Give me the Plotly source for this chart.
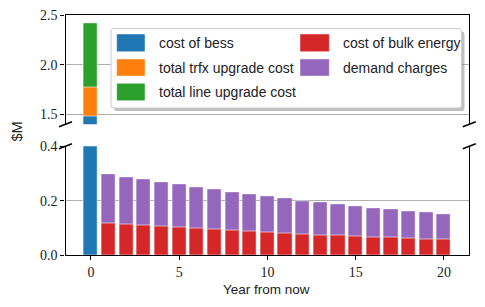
import plotly.graph_objects as go

W, H = 485, 307

years = list(range(0, 21))
bess_year = [0]
cost_bess = [1.476]
trfx_upgrade = [0.297]
line_upgrade = [0.642]
bulk_years = list(range(1, 21))
bulk_energy = [0.117, 0.112, 0.109, 0.106, 0.102, 0.098, 0.095, 0.091, 0.087, 0.085,
               0.081, 0.077, 0.074, 0.071, 0.069, 0.066, 0.064, 0.063, 0.059, 0.058]
demand_charges = [0.181, 0.175, 0.168, 0.162, 0.157, 0.151, 0.147, 0.141, 0.136, 0.130,
                  0.126, 0.122, 0.119, 0.116, 0.110, 0.107, 0.103, 0.098, 0.097, 0.092]
x_ticks = [0, 5, 10, 15, 20]
y_ticks_low = [0.0, 0.2, 0.4]
y_ticks_low_text = ["0.0", "0.2", "0.4"]
y_ticks_high = [1.5, 2.0, 2.5]
y_ticks_high_text = ["1.5", "2.0", "2.5"]

names = ["cost of bess", "total trfx upgrade cost", "total line upgrade cost",
         "cost of bulk energy", "demand charges"]
colors = ["#1f77b4", "#ff7f0e", "#2ca02c", "#d62728", "#9467bd"]

SERIF = "Liberation Serif"
SANS = "Liberation Sans"

def px(x):
    return x / W

def py(y):
    return 1 - y / H

fig = go.Figure()
edge = dict(color="rgba(255,255,255,0.55)", width=0.8)

for xa, ya in [("x", "y"), ("x2", "y2")]:
    b0 = [0.0]
    b1 = [cost_bess[0]]
    b2 = [cost_bess[0] + trfx_upgrade[0]]
    fig.add_trace(go.Bar(x=bess_year, y=cost_bess, base=b0, width=0.8, marker_color=colors[0],
                         marker_line=edge, xaxis=xa, yaxis=ya, showlegend=False))
    fig.add_trace(go.Bar(x=bess_year, y=trfx_upgrade, base=b1, width=0.8, marker_color=colors[1],
                         marker_line=edge, xaxis=xa, yaxis=ya, showlegend=False))
    fig.add_trace(go.Bar(x=bess_year, y=line_upgrade, base=b2, width=0.8, marker_color=colors[2],
                         marker_line=edge, xaxis=xa, yaxis=ya, showlegend=False))
    fig.add_trace(go.Bar(x=bulk_years, y=bulk_energy, base=[0.0] * len(bulk_energy), width=0.8,
                         marker_color=colors[3], marker_line=edge, xaxis=xa, yaxis=ya, showlegend=False))
    fig.add_trace(go.Bar(x=bulk_years, y=demand_charges, base=bulk_energy, width=0.8,
                         marker_color=colors[4], marker_line=edge, xaxis=xa, yaxis=ya, showlegend=False))

XL, XR = 65.5, 469.3
Y_TOP_T, Y_TOP_B = 15.3, 124.2
Y_BOT_T, Y_BOT_B = 146.3, 255.0

axis_common = dict(showline=True, linecolor="black", linewidth=1.4, zeroline=False, automargin=False)
tickfont = dict(family=SERIF, size=14, color="#222")

fig.update_layout(
    template="none",
    width=W, height=H,
    margin=dict(l=0, r=0, t=0, b=0, pad=0),
    paper_bgcolor="white", plot_bgcolor="white",
    barmode="overlay", bargap=0,
    showlegend=False,
    xaxis=dict(domain=[px(XL), px(XR)], range=[-1.44, 21.44], anchor="y",
               tickvals=x_ticks, ticks="outside", ticklen=4, tickwidth=1.2, tickcolor="black",
               tickfont=tickfont, showgrid=False, **axis_common),
    yaxis=dict(domain=[py(Y_BOT_B), py(Y_BOT_T)], range=[0, 0.4], anchor="x",
               tickvals=y_ticks_low, ticktext=y_ticks_low_text, ticks="outside", ticklen=4,
               tickwidth=1.2, tickcolor="black", tickfont=tickfont, mirror=True,
               showgrid=True, gridcolor="#b0b0b0", gridwidth=1, **axis_common),
    xaxis2=dict(domain=[px(XL), px(XR)], range=[-1.44, 21.44], anchor="y2", matches="x",
                side="top", showticklabels=False, ticks="", showgrid=False, **axis_common),
    yaxis2=dict(domain=[py(Y_TOP_B), py(Y_TOP_T)], range=[1.4, 2.5], anchor="x2",
                tickvals=y_ticks_high, ticktext=y_ticks_high_text, ticks="outside", ticklen=4,
                tickwidth=1.2, tickcolor="black", tickfont=tickfont, mirror=True,
                showgrid=True, gridcolor="#b0b0b0", gridwidth=1, **axis_common),
)

shapes = []
# break marks
dx, dy = 6.5, 2.5
for xc in (XL, XR):
    for yc in (Y_TOP_B, Y_BOT_T):
        shapes.append(dict(type="line", xref="paper", yref="paper",
                           x0=px(xc - dx), y0=py(yc + dy), x1=px(xc + dx), y1=py(yc - dy),
                           line=dict(color="black", width=1.5)))

# legend box
bx0, bx1, by0, by1 = 111.0, 461.5, 28.5, 108.0
r = 3.0

def rounded(x0, x1, y0, y1, r):
    pts = (f"M {px(x0 + r)},{py(y0)} L {px(x1 - r)},{py(y0)} Q {px(x1)},{py(y0)} {px(x1)},{py(y0 + r)} "
           f"L {px(x1)},{py(y1 - r)} Q {px(x1)},{py(y1)} {px(x1 - r)},{py(y1)} "
           f"L {px(x0 + r)},{py(y1)} Q {px(x0)},{py(y1)} {px(x0)},{py(y1 - r)} "
           f"L {px(x0)},{py(y0 + r)} Q {px(x0)},{py(y0)} {px(x0 + r)},{py(y0)} Z")
    return pts

shapes.append(dict(type="path", xref="paper", yref="paper", path=rounded(bx0 + 3, bx1 + 3, by0 + 3, by1 + 3, r),
                   fillcolor="rgba(128,128,128,0.5)", line=dict(width=0), layer="above"))
shapes.append(dict(type="path", xref="paper", yref="paper", path=rounded(bx0, bx1, by0, by1, r),
                   fillcolor="white", line=dict(color="#cccccc", width=1), layer="above"))

annotations = []
col_patch = [(116.7, 145.0), (300.0, 329.3)]
col_text = [156.7, 340.7]
rows = [(34.0, 51.7), (59.0, 76.0), (83.3, 100.7)]
layout_pos = [(0, 0), (0, 1), (0, 2), (1, 0), (1, 1)]
for i, (c, rr) in enumerate(layout_pos):
    x0, x1 = col_patch[c]
    y0, y1 = rows[rr]
    shapes.append(dict(type="rect", xref="paper", yref="paper", x0=px(x0), x1=px(x1), y0=py(y1), y1=py(y0),
                       fillcolor=colors[i], line=dict(color="rgba(255,255,255,0.55)", width=0.8), layer="above"))
    annotations.append(dict(xref="paper", yref="paper", x=px(col_text[c]), y=py((y0 + y1) / 2),
                            text=names[i], showarrow=False, xanchor="left", yanchor="middle",
                            font=dict(family=SANS, size=14, color="#222")))

annotations.append(dict(xref="paper", yref="paper", x=px(266.7), y=py(289), text="Year from now",
                        showarrow=False, xanchor="center", yanchor="middle",
                        font=dict(family=SANS, size=13.5, color="#222")))
annotations.append(dict(xref="paper", yref="paper", x=px(16.5), y=py(132), text="$M",
                        showarrow=False, xanchor="center", yanchor="middle", textangle=-90,
                        font=dict(family=SANS, size=14.5, color="#222")))

fig.update_layout(shapes=shapes, annotations=annotations)
fig.write_html("out.html", config={"displayModeBar": False},
               post_script="document.body.style.margin='0';document.body.style.padding='0';")
